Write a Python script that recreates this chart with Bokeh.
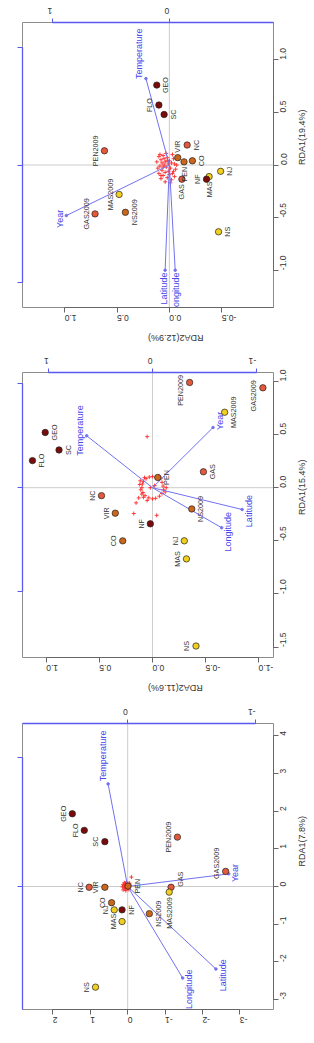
import math
from bokeh.plotting import figure
from bokeh.layouts import column
from bokeh.models import Range1d, LinearAxis, FixedTicker, NumeralTickFormatter, Label
from bokeh.core.properties import value
from bokeh.embed import file_html
from bokeh.resources import INLINE

FONT = "Liberation Sans"
BLUE_LINE = "#7272f0"
BLUE_AXIS = "#5a5af2"
BLUE_TEXT = "#4646ea"
TEXT_GREY = "#333333"
HAS_LABEL_ORIENT = "axis_label_orientation" in LinearAxis.properties()

# ---------------- sites ----------------
sites = ["GEO", "FLO", "SC", "NC", "VIR", "CO", "PEN", "NJ", "MAS", "NF", "GAS", "NS",
         "PEN2009", "MAS2009", "GAS2009", "NS2009"]
DARK, RED, ORANGE, YELLOW = "#7a0b0b", "#e4583b", "#cb661b", "#f1cf20"
site_colors = [DARK, DARK, DARK, RED, ORANGE, ORANGE, ORANGE, YELLOW, YELLOW, DARK, RED,
               YELLOW, RED, YELLOW, RED, ORANGE]

env_vars = ["Temperature", "Year", "Latitude", "Longitude"]

# ---------------- panel a ----------------
a_site_rda1 = [1.93, 1.49, 1.19, -0.02, -0.02, -0.43, 0.01, -0.62, -0.93, -0.62, -0.02,
               -2.67, 1.31, -0.15, 0.40, -0.72]
a_site_rda2 = [1.48, 1.16, 0.61, 1.03, 0.61, 0.43, -0.01, 0.36, 0.15, 0.15, -1.16,
               0.86, -1.33, -1.11, -2.62, -0.58]
a_env_rda1 = [0.796, 0.098, -0.64, -0.71]
a_env_rda2 = [0.153, -0.79, -0.69, -0.43]
a_spp_rda2 = [0.12, 0.10, 0.08, 0.12, 0.06, 0.04, 0.02, 0.00, -0.02, -0.04, -0.06, 0.07,
              0.14, -0.10, 0.03, -0.03, 0.09, 0.05, -0.05, 0.01]
a_spp_rda1 = [0.05, 0.02, -0.02, -0.09, 0.08, 0.03, -0.05, 0.06, 0.02, -0.03, 0.04, -0.06,
              -0.01, 0.25, 0.12, -0.08, 0.10, -0.11, 0.09, 0.00]
a_rda1_ticks = [-3, -2, -1, 0, 1, 2, 3, 4]
a_rda2_ticks = [-3, -2, -1, 0, 1, 2]

# ---------------- panel b ----------------
b_site_rda1 = [0.52, 0.255, 0.355, -0.075, -0.24, -0.50, 0.096, -0.50, -0.67, -0.34, 0.15,
               -1.49, 0.99, 0.71, 0.94, -0.20]
b_site_rda2 = [1.01, 1.13, 0.88, 0.48, 0.35, 0.28, -0.05, -0.30, -0.32, 0.02, -0.48,
               -0.41, -0.35, -0.68, -1.04, -0.37]
b_env_rda1 = [0.50, 0.58, -0.21, -0.386]
b_env_rda2 = [0.634, -0.584, -0.864, -0.667]
b_spp_rda2 = [0.10, 0.095, 0.085, 0.06, 0.03, 0.0, -0.035, -0.065, -0.09, -0.10, -0.105,
              -0.09, -0.065, -0.03, 0.0, 0.035, 0.07, 0.09, 0.11, 0.12, 0.075, -0.08, -0.12,
              0.05, 0.02, -0.02, 0.05, 0.154, 0.176, -0.04, -0.13, 0.13, 0.115, 0.085,
              -0.06, 0.10]
b_spp_rda1 = [0.0, 0.035, 0.06, 0.085, 0.10, 0.105, 0.095, 0.08, 0.05, 0.015, -0.02,
              -0.055, -0.08, -0.10, -0.105, -0.095, -0.075, -0.045, -0.02, 0.03, 0.095, 0.09,
              -0.04, -0.12, 0.0, 0.02, 0.48, -0.143, -0.243, -0.26, 0.0, -0.096, 0.065,
              -0.09, 0.11, -0.06]
b_rda1_ticks = [-1.5, -1.0, -0.5, 0.0, 0.5, 1.0]
b_rda2_ticks = [-1.0, -0.5, 0.0, 0.5, 1.0]

# ---------------- panel c ----------------
c_site_rda1 = [0.76, 0.57, 0.48, 0.19, 0.07, 0.04, 0.03, -0.06, -0.11, -0.135, -0.135,
               -0.635, 0.135, -0.28, -0.465, -0.45]
c_site_rda2 = [0.12, 0.10, 0.05, -0.17, -0.08, -0.22, -0.14, -0.49, -0.38, -0.355, -0.12,
               -0.47, 0.62, 0.48, 0.71, 0.42]
c_env_rda1 = [0.735, -0.43, -0.895, -0.895]
c_env_rda2 = [0.20, 0.88, 0.036, -0.05]
c_spp_rda2 = [0.10, 0.08, 0.06, 0.04, 0.02, 0.00, -0.02, -0.04, -0.05, 0.05, 0.09, 0.11,
              0.07, 0.03, 0.01, -0.01, -0.03, -0.06, 0.06, 0.02, -0.02, 0.04, 0.08, 0.10,
              -0.05, 0.00, 0.12, 0.03, -0.03, 0.07, 0.05, -0.07, 0.09, 0.01, 0.04, -0.01,
              0.06, 0.02, -0.04, 0.08]
c_spp_rda1 = [0.08, 0.05, 0.09, 0.03, 0.07, 0.04, 0.02, 0.06, 0.01, 0.00, -0.01, -0.03,
              -0.05, -0.02, -0.06, -0.03, -0.08, -0.04, -0.10, -0.12, -0.14, -0.16, -0.13,
              -0.08, -0.11, -0.09, 0.03, 0.11, 0.10, 0.02, 0.06, 0.00, 0.10, 0.01, -0.07, -0.17,
              -0.02, 0.04, -0.06, -0.10]
c_rda1_ticks = [-1.0, -0.5, 0.0, 0.5, 1.0]
c_rda2_ticks = [-1.0, -0.5, 0.0, 0.5, 1.0]

arrow_ticks = [-1, 0, 1]

# Side of each site label around its point (screen terms of the turned plot);
# a trailing "+"/"-" nudges the label down/up along the text direction.
a_sides = ["L", "L", "L", "L", "L", "L", "R", "L", "L", "R", "R-", "L", "L", "B", "L-", "R"]
b_sides = ["R", "R", "R", "L", "L", "L", "R", "L", "L", "L", "R", "L", "L+", "R", "L+", "R"]
c_sides = ["R", "L", "R", "R", "T", "R", "B", "R", "B", "L", "B", "R", "L", "L", "L", "R"]

# Helvetica-like advance widths (em) for the arrow labels
CHAR_W = {"T": .611, "e": .556, "m": .833, "p": .556, "r": .333, "a": .556, "t": .278,
          "u": .556, "Y": .667, "L": .556, "i": .222, "d": .556, "o": .556, "n": .556,
          "g": .556}


def text_width(s, size):
    return sum(CHAR_W.get(ch, .556) for ch in s) * size


def arrow_label_xy(rda2, rda1, s, text, size):
    """Centre of an arrow label just beyond the tip (vegan's ordiArrowTextXY rule).
    RDA1 runs along the text direction, RDA2 across it."""
    w, h = text_width(text, size), size
    vx, vy = rda1 * s, rda2 * s
    b = vy / vx
    ox = math.copysign(w / 2 + h / 4, vx)
    oy = 0.75 * h * math.copysign(1, vy)
    move = oy / b if b != 0 else math.inf
    if math.isfinite(move) and abs(move) <= abs(ox):
        ox = move
    else:
        oy = b * ox
    return (vy + oy) / s, (vx + ox) / s


FW = 253
SIDE = {
    "L": dict(dx=-4.5, dy=0, align="center", base="bottom"),
    "R": dict(dx=4.5, dy=0, align="center", base="top"),
    "T": dict(dx=0, dy=-5, align="left", base="middle"),
    "B": dict(dx=0, dy=5, align="right", base="middle"),
}
NUDGE = {"": 0, "+": 8, "-": -8}


def style_axis(axis, size="8.5px"):
    axis.major_tick_in = 0
    axis.minor_tick_line_color = None
    axis.major_label_text_font = FONT
    axis.major_label_text_font_size = size
    axis.major_label_text_color = TEXT_GREY
    axis.axis_label_text_font = FONT
    axis.axis_label_text_font_size = "9px"
    axis.axis_label_text_font_style = "normal"
    axis.axis_label_text_color = TEXT_GREY


def make_panel(letter, rda1_title, rda2_title, height, top, fh, xlim, ylim, amul,
               site_rda1, site_rda2, sides, env_rda1, env_rda2, spp_rda1, spp_rda2,
               rda1_ticks, rda2_ticks, fmt, bottom_title_on_axis=True):
    bottom = height - top - fh
    p = figure(width=314, height=height, output_backend="svg", toolbar_location=None,
               x_range=Range1d(*xlim), y_range=Range1d(*ylim),
               x_axis_location=None, y_axis_location=None,
               min_border_left=22, min_border_right=314 - 22 - FW,
               min_border_top=top, min_border_bottom=bottom,
               outline_line_color="#8c8c8c", outline_line_width=1,
               background_fill_color="white", border_fill_color="white")
    p.xgrid.visible = False
    p.ygrid.visible = False

    # scale of the environmental arrows
    ax = (xlim[0] / amul, xlim[1] / amul)
    ay = (ylim[0] / amul, ylim[1] / amul)
    p.extra_x_ranges = {"ax": Range1d(*ax)}
    p.extra_y_ranges = {"ay": Range1d(*ay)}

    # main axes
    ry = LinearAxis(ticker=FixedTicker(ticks=rda1_ticks), formatter=NumeralTickFormatter(format=fmt),
                    bounds=(min(rda1_ticks), max(rda1_ticks)),
                    major_label_orientation=math.pi / 2, major_tick_out=5,
                    axis_line_color="#666666", major_tick_line_color="#666666",
                    major_label_standoff=5, axis_label=rda1_title, axis_label_standoff=9)
    style_axis(ry)
    if HAS_LABEL_ORIENT:
        ry.axis_label_orientation = math.pi / 2
    p.add_layout(ry, "right")

    bx = LinearAxis(ticker=FixedTicker(ticks=rda2_ticks), formatter=NumeralTickFormatter(format=fmt),
                    bounds=(min(rda2_ticks), max(rda2_ticks)),
                    major_label_orientation=math.pi, major_tick_out=5,
                    axis_line_color="#666666", major_tick_line_color="#666666",
                    major_label_standoff=5, axis_label_standoff=11)
    style_axis(bx)
    if bottom_title_on_axis:
        bx.axis_label = rda2_title
        if HAS_LABEL_ORIENT:
            bx.axis_label_orientation = math.pi
    p.add_layout(bx, "below")

    # arrow-scale axes
    def clip(r):
        lo, hi = min(r), max(r)
        return (max(-1, lo), min(1, hi))

    tx = LinearAxis(x_range_name="ax", ticker=FixedTicker(ticks=arrow_ticks),
                    formatter=NumeralTickFormatter(format="0"), bounds=clip(ax),
                    major_label_orientation=math.pi, major_tick_out=4,
                    axis_line_color=BLUE_AXIS, axis_line_width=1.3,
                    major_tick_line_color=BLUE_AXIS, major_label_standoff=8)
    style_axis(tx)
    p.add_layout(tx, "above")
    ly = LinearAxis(y_range_name="ay", ticker=FixedTicker(ticks=arrow_ticks),
                    formatter=NumeralTickFormatter(format="0"), bounds=clip(ay),
                    major_tick_out=5, axis_line_color=BLUE_AXIS, axis_line_width=1.3,
                    major_tick_line_color=BLUE_AXIS)
    style_axis(ly, size="1px")
    ly.major_label_text_alpha = 0
    p.add_layout(ly, "left")

    # zero lines
    p.segment(x0=[0, xlim[0]], y0=[ylim[0], 0], x1=[0, xlim[1]], y1=[ylim[1], 0],
              line_color="#cccccc", line_width=1)

    # species scores
    p.scatter(x=spp_rda2, y=spp_rda1, marker="cross", size=4, line_color="#ff2a2a",
              line_width=0.9)

    # environmental arrows
    p.segment(x0=[0] * len(env_vars), y0=[0] * len(env_vars), x1=env_rda2, y1=env_rda1,
              line_color=BLUE_LINE, line_width=1, x_range_name="ax", y_range_name="ay")
    p.scatter(x=env_rda2, y=env_rda1, size=2.5, fill_color=BLUE_LINE, line_color=BLUE_LINE,
              x_range_name="ax", y_range_name="ay")
    s = FW / abs(ax[0] - ax[1])
    lx, lyy = [], []
    for name, r2, r1 in zip(env_vars, env_rda2, env_rda1):
        x, y = arrow_label_xy(r2, r1, s, name, 9)
        lx.append(x)
        lyy.append(y)
    p.text(x=lx, y=lyy, text=env_vars, angle=math.pi / 2, text_align="center",
           text_baseline="middle", text_font=value(FONT), text_font_size="9px",
           text_color=BLUE_TEXT, x_range_name="ax", y_range_name="ay")

    # sites
    p.scatter(x=site_rda2, y=site_rda1, size=6.4, fill_color=site_colors,
              line_color="#222222", line_width=0.7)
    groups = {}
    for i, sd in enumerate(sides):
        groups.setdefault(sd, []).append(i)
    for code, idx in groups.items():
        spec = SIDE[code[0]]
        p.text(x=[site_rda2[i] for i in idx], y=[site_rda1[i] for i in idx],
               text=[sites[i] for i in idx], angle=math.pi / 2,
               x_offset=spec["dx"], y_offset=spec["dy"] + NUDGE[code[1:]],
               text_align=spec["align"], text_baseline=spec["base"],
               text_font=value(FONT), text_font_size="7.2px", text_color=TEXT_GREY)

    # positions relative to the frame, in data units
    def at(dx, dy):
        x = xlim[0] + dx / FW * (xlim[1] - xlim[0])
        y = ylim[1] - dy / fh * (ylim[1] - ylim[0])
        return x, y

    if not bottom_title_on_axis:
        x, y = at(FW / 2, fh + 36)
        p.add_layout(Label(x=x, y=y, text=rda2_title, angle=math.pi, text_align="center",
                           text_baseline="middle", text_font=FONT, text_font_size="9px",
                           text_color=TEXT_GREY))
    x, y = at(-21, fh + 30)
    p.add_layout(Label(x=x, y=y, text=letter, angle=math.pi / 2, text_align="center",
                       text_baseline="middle", text_font=FONT, text_font_size="12px",
                       text_font_style="bold", text_color="#222222"))
    return p


pc = make_panel("c", "RDA1(19.4%)", "RDA2(12.9%)", 350, 22, 286,
                (1.403, -0.995), (-1.355, 1.355), 1.118,
                c_site_rda1, c_site_rda2, c_sides, c_env_rda1, c_env_rda2,
                c_spp_rda1, c_spp_rda2, c_rda1_ticks, c_rda2_ticks, "0.0")
pb = make_panel("b", "RDA1(15.4%)", "RDA2(11.6%)", 350, 22, 287,
                (1.224, -1.140), (-1.598, 1.084), 0.977,
                b_site_rda1, b_site_rda2, b_sides, b_env_rda1, b_env_rda2,
                b_spp_rda1, b_spp_rda2, b_rda1_ticks, b_rda2_ticks, "0.0")
pa = make_panel("a", "RDA1(7.8%)", "RDA2(6.1%)", 343, 23, 286,
                (2.812, -3.899), (-3.263, 4.324), 3.42,
                a_site_rda1, a_site_rda2, a_sides, a_env_rda1, a_env_rda2,
                a_spp_rda1, a_spp_rda2, a_rda1_ticks, a_rda2_ticks, "0",
                bottom_title_on_axis=False)

layout = column(pc, pb, pa, spacing=0)
open("out.html", "w").write(file_html(layout, INLINE))
